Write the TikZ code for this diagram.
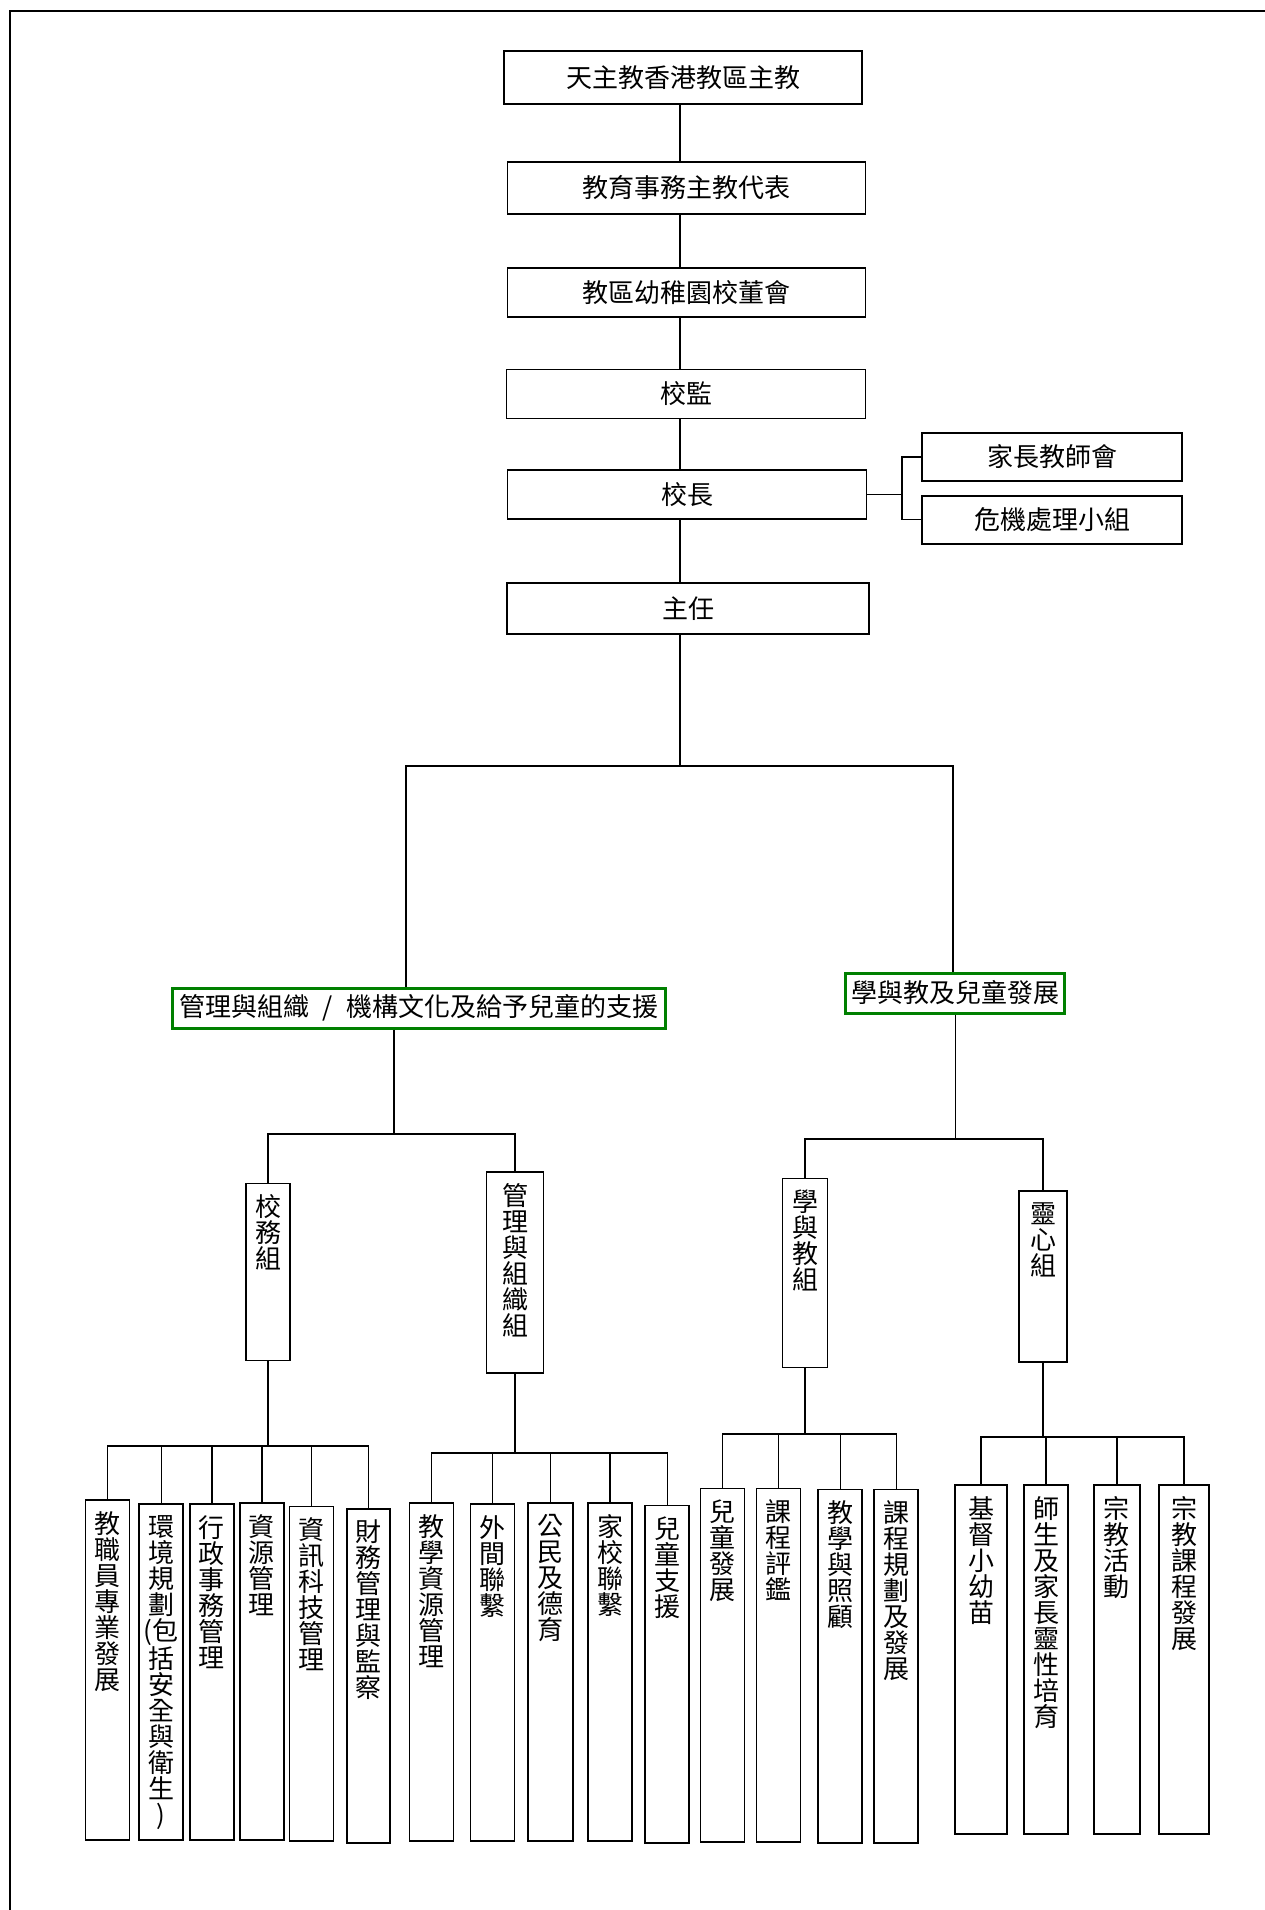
\documentclass[tikz,border=0pt]{standalone}
\usepackage{fontspec}
\usepackage{tikz}
\usepackage{xcolor}
\newfontfamily\zhfont{Noto Sans CJK TC}
\definecolor{boxgreen}{RGB}{0,128,0}

\begin{document}
\begin{tikzpicture}[x=1pt,y=-1pt,font=\zhfont\fontsize{26pt}{26pt}\selectfont]%
  \tikzstyle{boxn}=[rectangle,draw,line width=1.8pt,inner sep=0pt]
  \tikzstyle{grnn}=[rectangle,draw=boxgreen,line width=3pt,inner xsep=3pt,inner ysep=0pt,minimum height=40pt]
  \tikzstyle{colm}=[rectangle,draw,line width=1.8pt,inner sep=0pt,minimum width=44pt,anchor=north]
  \tikzstyle{coltxt}=[anchor=north,align=center,inner sep=0pt,yshift=-12pt]
  \tikzstyle{conn}=[line width=1.4pt]
  \useasboundingbox (0,0) rectangle (1265,1910);
  \draw[line width=2.5pt] (1265,11) -- (10,11) -- (10,1910);
  % chain
  \node(bishop)[boxn,minimum width=358pt,minimum height=53pt] at (683,77.5) {天主教香港教區主教};
  \node(episcopal)[boxn,minimum width=358pt,minimum height=52pt] at (686.5,188) {教育事務主教代表};
  \node(board)[boxn,minimum width=358pt,minimum height=49pt] at (686.5,292.5) {教區幼稚園校董會};
  \node(supervisor)[boxn,minimum width=359pt,minimum height=49pt] at (686,394) {校監};
  \node(principal)[boxn,minimum width=359pt,minimum height=49pt] at (687,494.7) {校長};
  \node(pta)[boxn,minimum width=260pt,minimum height=48pt] at (1052,456.8) {家長教師會};
  \node(crisis)[boxn,minimum width=260pt,minimum height=48pt] at (1052,519.6) {危機處理小組};
  \node(head)[boxn,minimum width=362pt,minimum height=51pt] at (688,608.3) {主任};
  \coordinate (spine) at (680,0);
  \draw[conn] (bishop.south -| spine) -- (episcopal.north -| spine)
    (episcopal.south -| spine) -- (board.north -| spine)
    (board.south -| spine) -- (supervisor.north -| spine)
    (supervisor.south -| spine) -- (principal.north -| spine)
    (principal.south -| spine) -- (head.north -| spine);
  \coordinate (fork) at (902,494.7);
  \draw[conn] (principal.east) -- (fork);
  \draw[conn] (pta.west) -| (fork) |- (crisis.west);
  % two areas
  \node(mgmt)[grnn,minimum width=493pt] at (419,1008) {管理與組織\hspace{.5em}/\hspace{.5em}機構文化及給予兒童的支援};
  \node(learn)[grnn,minimum width=219pt] at (955.4,993) {學與教及兒童發展};
  \coordinate (midL) at (406,766);
  \coordinate (midR) at (953,766);
  \draw[conn] (head.south -| spine) -- (spine |- midL);
  \draw[conn] (mgmt.north -| midL) |- (midR) -- (learn.north -| midR);
  % teams
  \node(admin)[colm,minimum height=177pt,label={[coltxt]north:校\\務\\組}] at (268,1182.6) {};
  \node(orgteam)[colm,minimum width=57pt,minimum height=201pt,label={[coltxt]north:管\\理\\與\\組\\織\\組}] at (515,1170.8) {};
  \node(teach)[colm,minimum width=45pt,minimum height=189pt,label={[coltxt]north:學\\與\\教\\組}] at (805,1177.5) {};
  \node(spirit)[colm,minimum width=48pt,minimum height=171pt,label={[coltxt]north:靈\\心\\組}] at (1043,1190) {};
  \coordinate (subL) at (394,1134);
  \coordinate (subR) at (955.4,1139);
  \draw[conn] (mgmt.south -| subL) -- (subL);
  \draw[conn] (admin.north) |- (subL) -| (orgteam.north);
  \draw[conn] (learn.south) -- (subR);
  \draw[conn] (teach.north) |- (subR) -| (spirit.north);
  % duties of admin team
  \node(a1)[colm,minimum height=340pt,label={[coltxt]north:教\\職\\員\\專\\業\\發\\展}] at (107.5,1499) {};
  \node(a2)[colm,minimum height=336pt,label={[coltxt]north:環\\境\\規\\劃\\(包\\括\\安\\全\\與\\衛\\生\\)}] at (161.3,1503) {};
  \node(a3)[colm,minimum height=336pt,label={[coltxt]north:行\\政\\事\\務\\管\\理}] at (211.8,1503) {};
  \node(a4)[colm,minimum height=337pt,label={[coltxt]north:資\\源\\管\\理}] at (261.8,1502) {};
  \node(a5)[colm,minimum height=334.5pt,label={[coltxt]north:資\\訊\\科\\技\\管\\理}] at (311.5,1505.5) {};
  \node(a6)[colm,minimum width=43pt,minimum height=334pt,label={[coltxt]north:財\\務\\管\\理\\與\\監\\察}] at (368.3,1508) {};
  \coordinate (barA) at (268,1446);
  \draw[conn] (admin.south) -- (barA);
  \draw[conn] (a1.north) |- (barA) -| (a6.north);
  \draw[conn] (a2.north) -- (a2.north |- barA) (a3.north) -- (a3.north |- barA)
    (a4.north) -- (a4.north |- barA) (a5.north) -- (a5.north |- barA);
  % duties of organisation team
  \node(b1)[colm,minimum height=338pt,label={[coltxt]north:教\\學\\資\\源\\管\\理}] at (431.5,1502) {};
  \node(b2)[colm,minimum height=337pt,label={[coltxt]north:外\\間\\聯\\繫}] at (492.5,1503) {};
  \node(b3)[colm,minimum width=45pt,minimum height=338pt,label={[coltxt]north:公\\民\\及\\德\\育}] at (550.5,1502) {};
  \node(b4)[colm,minimum height=338pt,label={[coltxt]north:家\\校\\聯\\繫}] at (610,1502) {};
  \node(b5)[colm,minimum height=337.5pt,label={[coltxt]north:兒\\童\\支\\援}] at (667.2,1504.5) {};
  \coordinate (barB) at (515,1453);
  \draw[conn] (orgteam.south) -- (barB);
  \draw[conn] (b1.north) |- (barB) -| (b5.north);
  \draw[conn] (b2.north) -- (b2.north |- barB) (b3.north) -- (b3.north |- barB)
    (b4.north) -- (b4.north |- barB);
  % duties of teaching team
  \node(c1)[colm,minimum height=353.5pt,label={[coltxt]north:兒\\童\\發\\展}] at (722.5,1487.5) {};
  \node(c2)[colm,minimum height=353.5pt,label={[coltxt]north:課\\程\\評\\鑑}] at (778.5,1487.5) {};
  \node(c3)[colm,minimum height=353.4pt,label={[coltxt]north:教\\學\\與\\照\\顧}] at (840.3,1488.6) {};
  \node(c4)[colm,minimum height=353.4pt,label={[coltxt]north:課\\程\\規\\劃\\及\\發\\展}] at (896.3,1488.6) {};
  \coordinate (barC) at (805,1434);
  \draw[conn] (teach.south) -- (barC);
  \draw[conn] (c1.north) |- (barC) -| (c4.north);
  \draw[conn] (c2.north) -- (c2.north |- barC) (c3.north) -- (c3.north |- barC);
  % duties of spiritual team
  \node(d1)[colm,minimum width=52pt,minimum height=349pt,label={[coltxt]north:基\\督\\小\\幼\\苗}] at (981,1484) {};
  \node(d2)[colm,minimum height=349pt,label={[coltxt]north:師\\生\\及\\家\\長\\靈\\性\\培\\育}] at (1046,1484) {};
  \node(d3)[colm,minimum width=46pt,minimum height=349pt,label={[coltxt]north:宗\\教\\活\\動}] at (1116.8,1484) {};
  \node(d4)[colm,minimum width=50pt,minimum height=349pt,label={[coltxt]north:宗\\教\\課\\程\\發\\展}] at (1184,1484) {};
  \coordinate (barD) at (1043,1437);
  \draw[conn] (spirit.south) -- (barD);
  \draw[conn] (d1.north) |- (barD) -| (d4.north);
  \draw[conn] (d2.north) -- (d2.north |- barD) (d3.north) -- (d3.north |- barD);
\end{tikzpicture}
\end{document}
